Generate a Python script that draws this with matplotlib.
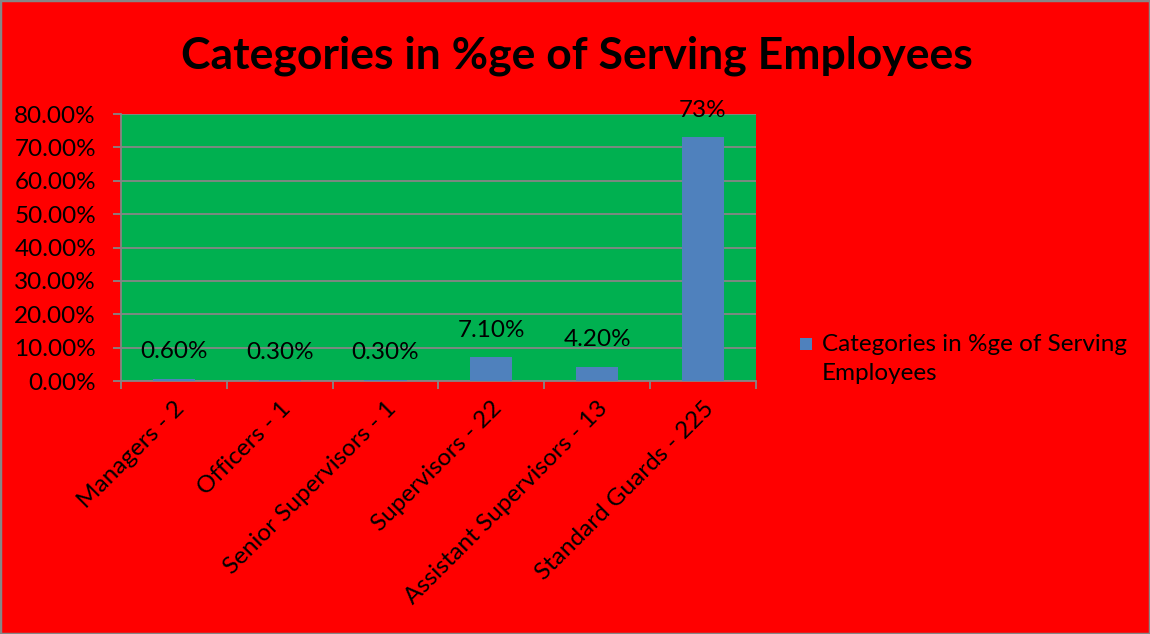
import matplotlib.pyplot as plt
from matplotlib.patches import Rectangle
import numpy as np

# categories and their share of serving employees
categories = ['Managers - 2', 'Officers - 1', 'Senior Supervisors - 1',
              'Supervisors - 22', 'Assistant Supervisors - 13', 'Standard Guards - 225']
shares = [0.006, 0.003, 0.003, 0.071, 0.042, 0.73]
value_labels = ['0.60%', '0.30%', '0.30%', '7.10%', '4.20%', '73%']
y_ticks = [0.0, 0.1, 0.2, 0.3, 0.4, 0.5, 0.6, 0.7, 0.8]

title = 'Categories in %ge of Serving Employees'
series_name = 'Categories in %ge of Serving\nEmployees'

plt.rcParams['font.family'] = ['Lato', 'DejaVu Sans']

red = '#FF0000'
green = '#00B050'
bar_color = '#4F81BD'
grey = '#868686'
fs = 17.5

fig = plt.figure(figsize=(11.5, 6.34), dpi=100, facecolor=red)
fig.patches.append(Rectangle((0, 0), 1, 1, transform=fig.transFigure,
                             fill=False, edgecolor=grey, linewidth=2.5))

ax = fig.add_axes([0.1052, 0.399, 0.552, 0.421])
ax.set_facecolor(green)

x = np.arange(len(categories))
ax.bar(x, shares, width=0.4, color=bar_color, zorder=3)

# value labels sit a fixed distance above each bar
for xi, v, lab in zip(x, shares, value_labels):
    ax.annotate(lab, (xi, v), xytext=(0, 19.5), textcoords='offset points',
                ha='center', va='center', fontsize=fs, color='black')

ax.set_xlim(-0.5, len(categories) - 0.5)
ax.set_ylim(0, 0.8)
ax.set_yticks(y_ticks)
ax.set_yticklabels(['%.2f%%' % (t * 100) for t in y_ticks], fontsize=fs)
ax.yaxis.grid(True, color=grey, linewidth=1.3, zorder=1)
ax.set_axisbelow(True)

ax.set_xticks(x)
ax.set_xticklabels(categories, rotation=45, ha='right', rotation_mode='anchor',
                   fontsize=fs)
ax.tick_params(axis='x', which='major', length=0, pad=12)
ax.set_xticks(np.arange(-0.5, len(categories)), minor=True)
ax.tick_params(axis='x', which='minor', length=6, color=grey, width=1.3)
ax.tick_params(axis='y', length=6, color=grey, width=1.3, pad=12)

for side in ['top', 'right']:
    ax.spines[side].set_visible(False)
for side in ['left', 'bottom']:
    ax.spines[side].set_color(grey)
    ax.spines[side].set_linewidth(1.3)

fig.text(0.502, 0.912, title, ha='center', va='center',
         fontsize=32, fontweight='bold', color='black')

# legend: swatch plus wrapped series name
fig.patches.append(Rectangle((0.6957, 0.4474), 0.0104, 0.019,
                             transform=fig.transFigure,
                             facecolor=bar_color, edgecolor='none'))
fig.text(0.7148, 0.434, series_name, ha='left', va='center', fontsize=fs,
         linespacing=1.5, color='black')

fig.savefig('out.png', dpi=100, facecolor=red)
